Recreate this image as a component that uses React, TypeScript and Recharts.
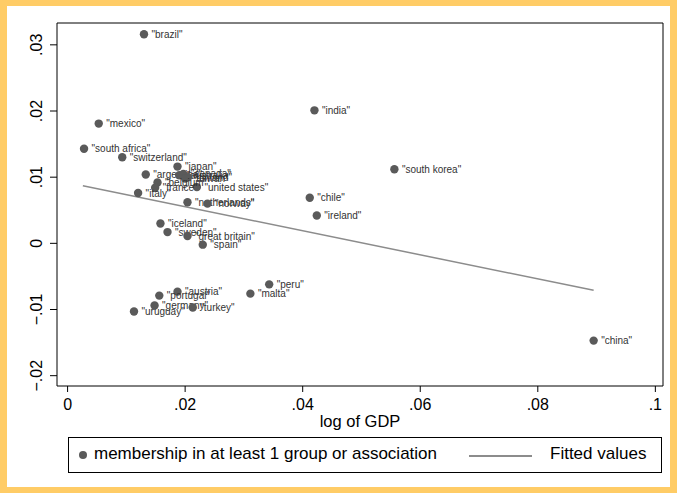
import React from "react";
import {
  ScatterChart,
  Scatter,
  XAxis,
  YAxis,
  ReferenceArea,
} from "recharts";

const countries = [
  "brazil", "india", "mexico", "south africa", "switzerland", "japan",
  "argentina", "australia", "canada", "finland", "taiwan", "united states",
  "belgium", "france", "italy", "netherlands", "norway", "iceland", "sweden",
  "great britain", "spain", "south korea", "chile", "ireland", "peru",
  "malta", "austria", "portugal", "germany", "turkey", "uruguay", "china",
];
const logGdp = [
  0.0130, 0.0420, 0.0053, 0.0028, 0.0093, 0.0187,
  0.0133, 0.0190, 0.0197, 0.0205, 0.0200, 0.0220,
  0.0153, 0.0149, 0.0120, 0.0204, 0.0238, 0.0158, 0.0170,
  0.0204, 0.0230, 0.0556, 0.0412, 0.0424, 0.0343,
  0.0311, 0.0187, 0.0156, 0.0148, 0.0213, 0.0113, 0.0895,
];
const membership = [
  0.0316, 0.0201, 0.0181, 0.0143, 0.0130, 0.0116,
  0.0104, 0.0103, 0.0105, 0.0100, 0.0098, 0.0085,
  0.0092, 0.0084, 0.0076, 0.0062, 0.0060, 0.0030, 0.0017,
  0.0011, -0.0002, 0.0112, 0.0069, 0.0042, -0.0062,
  -0.0076, -0.0073, -0.0079, -0.0094, -0.0097, -0.0103, -0.0147,
];
// fitted line end points
const fitX = [0.0026, 0.0895];
const fitY = [0.0087, -0.0071];

const xTicks = [0, 0.02, 0.04, 0.06, 0.08, 0.1];
const yTicks = [-0.02, -0.01, 0, 0.01, 0.02, 0.03];

const points = countries.map((name, i) => ({ name, x: logGdp[i], y: membership[i] }));
const fit = fitX.map((x, i) => ({ x, y: fitY[i] }));

const FONT = "'Liberation Sans', Arial, sans-serif";
const DOT = "#5a5a5a";
const X_DOMAIN = [-0.0018, 0.1013];
const Y_DOMAIN = [-0.02156, 0.0333];

const fmt = (v: number) => {
  if (v === 0) return "0";
  return String(v).replace("0.", ".").replace("-", "\u2212");
};

const LabeledDot = (p: any) => (
  <g>
    <circle cx={p.cx} cy={p.cy} r={4.2} fill={DOT} />
    <text
      x={p.cx + 7.5}
      y={p.cy}
      dy="0.35em"
      fontSize={10}
      fontFamily={FONT}
      fill="#333"
    >
      {'"' + p.payload.name + '"'}
    </text>
  </g>
);

const YTick = (p: any) => (
  <text
    x={p.x - 6}
    y={p.y}
    transform={`rotate(-90 ${p.x - 6} ${p.y})`}
    textAnchor="middle"
    fontSize={16}
    fontFamily={FONT}
    fill="#000"
  >
    {fmt(p.payload.value)}
  </text>
);

const XTick = (p: any) => (
  <text
    x={p.x}
    y={p.y + 16}
    textAnchor="middle"
    fontSize={16}
    fontFamily={FONT}
    fill="#000"
  >
    {fmt(p.payload.value)}
  </text>
);

export default function App() {
  return (
    <div
      style={{
        position: "absolute",
        left: 0,
        top: 0,
        width: 677,
        height: 493,
        background: "#FFCC66",
      }}
    >
      <div
        style={{
          position: "absolute",
          left: 7,
          top: 6,
          width: 663,
          height: 481,
          background: "#fff",
        }}
      />
      <div style={{ position: "absolute", left: 0, top: 0 }}>
        <ScatterChart
          width={677}
          height={493}
          margin={{ top: 23, right: 14, left: 0, bottom: 0 }}
        >
          <XAxis
            type="number"
            dataKey="x"
            domain={X_DOMAIN}
            ticks={xTicks}
            allowDataOverflow
            axisLine={false}
            tickLine={{ stroke: "#000" }}
            tickSize={6}
            height={107}
            tick={XTick}
            label={(lp: any) => {
              const vb = lp.viewBox;
              return (
                <text
                  x={vb.x + vb.width / 2}
                  y={vb.y + 41}
                  textAnchor="middle"
                  fontSize={16.5}
                  fontFamily={FONT}
                  fill="#000"
                >
                  log of GDP
                </text>
              );
            }}
          />
          <YAxis
            type="number"
            dataKey="y"
            domain={Y_DOMAIN}
            ticks={yTicks}
            allowDataOverflow
            axisLine={false}
            tickLine={{ stroke: "#000" }}
            tickSize={7}
            width={57}
            tick={YTick}
          />
          <ReferenceArea
            x1={X_DOMAIN[0]}
            x2={X_DOMAIN[1]}
            y1={Y_DOMAIN[0]}
            y2={Y_DOMAIN[1]}
            fill="none"
            stroke="#000"
            strokeWidth={1}
            ifOverflow="visible"
          />
          <Scatter
            data={fit}
            line={{ stroke: "#8c8c8c", strokeWidth: 1.5 }}
            shape={() => <g />}
            isAnimationActive={false}
          />
          <Scatter data={points} shape={LabeledDot} isAnimationActive={false} />
        </ScatterChart>
      </div>
      <div
        style={{
          position: "absolute",
          left: 68,
          top: 437,
          width: 592,
          height: 34,
          border: "1px solid #000",
          background: "#fff",
          fontFamily: FONT,
          fontSize: 17,
          color: "#000",
        }}
      >
        <div
          style={{
            position: "absolute",
            left: 10,
            top: 13,
            width: 8,
            height: 8,
            borderRadius: 4,
            background: DOT,
          }}
        />
        <span style={{ position: "absolute", left: 25, top: 6, whiteSpace: "nowrap" }}>
          membership in at least 1 group or association
        </span>
        <div
          style={{
            position: "absolute",
            left: 400,
            top: 17,
            width: 63,
            height: 1.5,
            background: "#8c8c8c",
          }}
        />
        <span style={{ position: "absolute", left: 481, top: 6, whiteSpace: "nowrap" }}>
          Fitted values
        </span>
      </div>
    </div>
  );
}
